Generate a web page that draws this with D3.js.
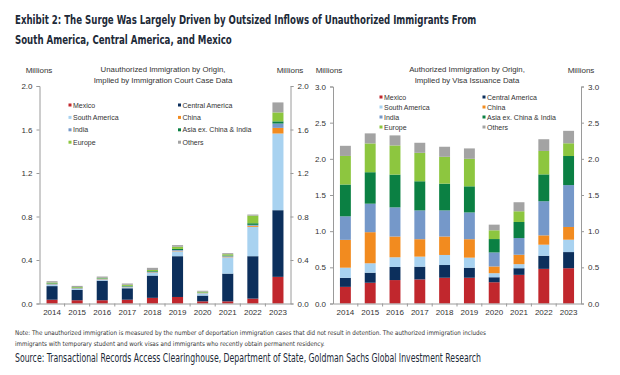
<!DOCTYPE html>
<html><head><meta charset="utf-8">
<script src="https://cdn.jsdelivr.net/npm/d3@7"></script>
<style>
body{margin:0;background:#fff;}
svg{display:block;font-family:"Liberation Sans",Arial,sans-serif;}
.cond{font-family:"Liberation Sans Narrow","DejaVu Sans Condensed","Roboto Condensed",sans-serif;font-stretch:condensed;}
</style></head>
<body>
<svg id="chart" width="620" height="375"></svg>
<script>
const years = ["2014","2015","2016","2017","2018","2019","2020","2021","2022","2023"];
const seriesNames = ["Mexico","Central America","South America","China","India","Asia ex. China & India","Europe","Others"];
const seriesColors = ["#c1272d","#0c2f5c","#a8d2f0","#f28b1f","#7598c9","#0b8043","#8dc63f","#a3a3a3"];

// Unauthorized immigration (millions)
const mexicoU  = [0.035,0.030,0.030,0.035,0.052,0.060,0.020,0.020,0.045,0.245];
const centralU = [0.125,0.095,0.180,0.105,0.205,0.375,0.053,0.255,0.390,0.613];
const southU   = [0.012,0.010,0.010,0.010,0.025,0.045,0.020,0.150,0.270,0.705];
const chinaU   = [0.003,0.003,0.003,0.003,0.004,0.005,0.002,0.005,0.010,0.052];
const indiaU   = [0.005,0.004,0.004,0.004,0.006,0.007,0.003,0.005,0.008,0.040];
const asiaU    = [0.005,0.004,0.004,0.005,0.006,0.010,0.003,0.006,0.015,0.020];
const europeU  = [0.008,0.006,0.005,0.010,0.010,0.020,0.008,0.012,0.070,0.082];
const othersU  = [0.012,0.010,0.012,0.012,0.020,0.015,0.008,0.010,0.010,0.092];

// Authorized immigration (millions)
const mexicoA  = [0.230,0.287,0.324,0.333,0.356,0.356,0.294,0.396,0.479,0.488];
const centralA = [0.125,0.139,0.181,0.176,0.176,0.139,0.069,0.092,0.181,0.223];
const southA   = [0.140,0.130,0.134,0.139,0.139,0.139,0.056,0.056,0.153,0.171];
const chinaA   = [0.385,0.430,0.287,0.241,0.255,0.255,0.093,0.130,0.129,0.176];
const indiaA   = [0.325,0.394,0.403,0.398,0.361,0.370,0.194,0.231,0.472,0.579];
const asiaA    = [0.440,0.435,0.453,0.403,0.370,0.361,0.185,0.222,0.371,0.402];
const europeA  = [0.395,0.398,0.403,0.393,0.371,0.380,0.121,0.148,0.324,0.176];
const othersA  = [0.140,0.139,0.139,0.139,0.139,0.144,0.078,0.125,0.162,0.172];

const ticksU = [0,0.4,0.8,1.2,1.6,2.0];
const ticksA = [0,0.5,1.0,1.5,2.0,2.5,3.0];

const titleLines = ["Exhibit 2: The Surge Was Largely Driven by Outsized Inflows of Unauthorized Immigrants From",
                    "South America, Central America, and Mexico"];
const noteLines = ["Note: The unauthorized immigration is measured by the number of deportation immigration cases that did not result in detention. The authorized immigration includes",
                   "immigrants with temporary student and work visas and immigrants who recently obtain permanent residency."];
const sourceText = "Source: Transactional Records Access Clearinghouse, Department of State, Goldman Sachs Global Investment Research";

const svg = d3.select("#chart");
const dark = "#1d2a38";

// place text lines at (x, y) and squeeze horizontally so the first line spans the target width
function condensedLines(lines, x, y0, dy, size, target, opts){
  const texts = lines.map((t,i)=>{
    const s = svg.append("text").attr("class","cond").attr("x",0).attr("y",0)
      .attr("font-size",size).attr("fill",opts.fill).text(t);
    if (opts.bold) s.attr("font-weight","bold");
    return s;
  });
  const w = texts[0].node().getComputedTextLength();
  const k = w > 0 ? Math.min(1, target / w) : 1;
  texts.forEach((s,i)=>s.attr("transform",`translate(${x},${y0+i*dy}) scale(${k.toFixed(4)},1)`));
}

condensedLines(titleLines, 15, 24, 20, 13, 462, {bold:true, fill:dark});

function makeRows(arrs){
  return years.map((y,i)=>{const o={year:y}; seriesNames.forEach((s,k)=>o[s]=arrs[k][i]); return o;});
}

function drawChart(cfg){
  const g = svg.append("g");
  const x = d3.scaleBand().domain(years).range([cfg.x0,cfg.x1]).paddingInner(0.56).paddingOuter(0.28);
  const y = d3.scaleLinear().domain([0,cfg.max]).range([cfg.yb,cfg.yt]);
  const rows = makeRows(cfg.data);
  const stack = d3.stack().keys(seriesNames)(rows);

  g.selectAll("g.s").data(stack).join("g").attr("fill",(d,i)=>seriesColors[i])
   .selectAll("rect").data(d=>d).join("rect")
   .attr("x",d=>x(d.data.year)).attr("width",x.bandwidth())
   .attr("y",d=>y(d[1])).attr("height",d=>Math.max(0,y(d[0])-y(d[1])));

  const fmt = d3.format(".1f");
  const axL = g.append("g").attr("transform",`translate(${cfg.x0},0)`)
    .call(d3.axisLeft(y).tickValues(cfg.ticks).tickFormat(fmt).tickSize(3).tickPadding(4));
  const axR = g.append("g").attr("transform",`translate(${cfg.x1},0)`)
    .call(d3.axisRight(y).tickValues(cfg.ticks).tickFormat(fmt).tickSize(3).tickPadding(4));
  const axB = g.append("g").attr("transform",`translate(0,${cfg.yb})`)
    .call(d3.axisBottom(x).tickSize(0).tickPadding(6));
  // category separator ticks
  const step = x.step();
  const sep = years.slice(1).map(yv=>x(yv)-step*x.paddingInner()/2);
  g.selectAll("line.sep").data(sep).join("line").attr("x1",d=>d).attr("x2",d=>d)
   .attr("y1",cfg.yb).attr("y2",cfg.yb+3).attr("stroke","#9a9a9a");
  [axL,axR,axB].forEach(a=>{
    a.select(".domain").attr("stroke","#9a9a9a");
    a.selectAll(".tick line").attr("stroke","#9a9a9a");
    a.selectAll("text").attr("font-size",8).attr("fill","#333").attr("font-family","Liberation Sans, Arial, sans-serif");
  });
  // Millions
  g.append("text").attr("x",cfg.millL).attr("y",73).attr("font-size",8).attr("fill","#333").attr("text-anchor","middle").text("Millions");
  g.append("text").attr("x",cfg.millR).attr("y",73).attr("font-size",8).attr("fill","#333").attr("text-anchor","middle").text("Millions");
  // subtitle
  cfg.sub.forEach((t,i)=>g.append("text").attr("x",cfg.subX).attr("y",72+i*11).attr("font-size",7.8)
     .attr("fill","#333").attr("text-anchor","middle").text(t));
  // legend
  seriesNames.forEach((s,i)=>{
    const col=i%2,row=Math.floor(i/2);
    const lx=cfg.legX[col], ly=cfg.legY+row*cfg.legDy;
    g.append("rect").attr("x",lx-1.5).attr("y",ly-1.5).attr("width",3).attr("height",3).attr("fill",seriesColors[i]);
    g.append("text").attr("x",lx+3).attr("y",ly+2.5).attr("font-size",7).attr("fill","#333").text(s);
  });
}

drawChart({x0:39.5,x1:290.5,yt:86,yb:303.5,max:2.0,ticks:ticksU,
  data:[mexicoU,centralU,southU,chinaU,indiaU,asiaU,europeU,othersU],
  millL:39,millR:290,subX:163,
  sub:["Unauthorized Immigration by Origin,","Implied by Immigration Court Case Data"],
  legX:[70,179.5],legY:105,legDy:12.4});

drawChart({x0:333,x1:581,yt:86.5,yb:303.5,max:3.0,ticks:ticksA,
  data:[mexicoA,centralA,southA,chinaA,indiaA,asiaA,europeA,othersA],
  millL:329,millR:581,subX:467,
  sub:["Authorized Immigration by Origin,","Implied by Visa Issuance Data"],
  legX:[381,484],legY:97,legDy:10});

condensedLines(noteLines, 15, 335, 11, 6.5, 472, {fill:"#333"});
condensedLines([sourceText], 15, 362, 0, 11.5, 467, {fill:dark});
</script>
</body></html>
